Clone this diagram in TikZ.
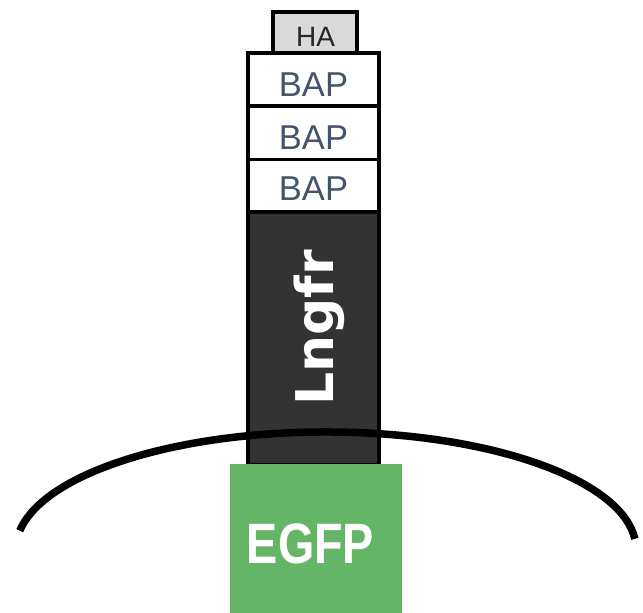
\documentclass[tikz,border=0pt]{standalone}
\usepackage{fontspec}
\usetikzlibrary{calc}
\setmainfont{Liberation Sans}
\newfontfamily\labelfont{Liberation Sans}
\newfontfamily\boldlabelfont{Liberation Sans Bold}
\newfontfamily\stemfont{DejaVu Sans Bold}
\definecolor{tagfill}{HTML}{D9D9D9}
\definecolor{bapblue}{HTML}{44546A}
\definecolor{receptor}{HTML}{333333}
\definecolor{gfpgreen}{HTML}{64B566}
\tikzset{
  proteinbox/.style={draw=black, line width=3.5pt, inner sep=0pt, outer sep=0pt},
  tagbox/.style={proteinbox, fill=tagfill, minimum width=84pt, minimum height=41pt},
  bapbox/.style={proteinbox, fill=white, minimum width=131pt, minimum height=53pt},
  membrane/.style={draw=black, line width=7.5pt},
  baplabel/.style={anchor=base, inner sep=0pt, text=bapblue, font=\labelfont\fontsize{34.5}{34.5}\selectfont},
}
\begin{document}
\begin{tikzpicture}[x=1pt, y=1pt]
\useasboundingbox (0,0) rectangle (643,613);

% tag and the three BAP repeats
\node[tagbox] (ha) at (315,580.5) {};
\node[bapbox] (bap1) at (313.5,533.5) {};
\node[bapbox] (bap2) at (313.5,480) {};
\node[bapbox] (bap3) at (313.5,427) {};

\node[anchor=base, inner sep=0pt, text=black!85, font=\labelfont\fontsize{28}{28}\selectfont] (hat) at (315.5,566) {HA};
\node[baplabel] (b1t) at (313.5,516) {BAP};
\node[baplabel] (b2t) at (313.5,463) {BAP};
\node[baplabel] (b3t) at (313.5,412) {BAP};

% receptor stem
\node[proteinbox, fill=receptor, minimum width=131pt, minimum height=253pt] (lngfr) at (313.5,274.5) {};
\node[rotate=90, anchor=base west, inner sep=0pt, text=white, font=\stemfont\fontsize{52}{52}\selectfont] (lngfrt) at (333,207) {Lngfr};

% cell membrane
\coordinate (mc) at (326,64);
\draw[membrane] ($(mc)+(171:310 and 117)$) arc[start angle=171, end angle=5, x radius=310, y radius=117];

% fluorescent reporter
\node[fill=gfpgreen, inner sep=0pt, minimum width=172pt, minimum height=149pt] (egfp) at (316,74.5) {};
\node[anchor=base, inner sep=0pt, text=white] (egfpt) at (310.5,49) {\scalebox{0.82}[1]{\boldlabelfont\fontsize{57}{57}\selectfont EGFP}};
\end{tikzpicture}
\end{document}
